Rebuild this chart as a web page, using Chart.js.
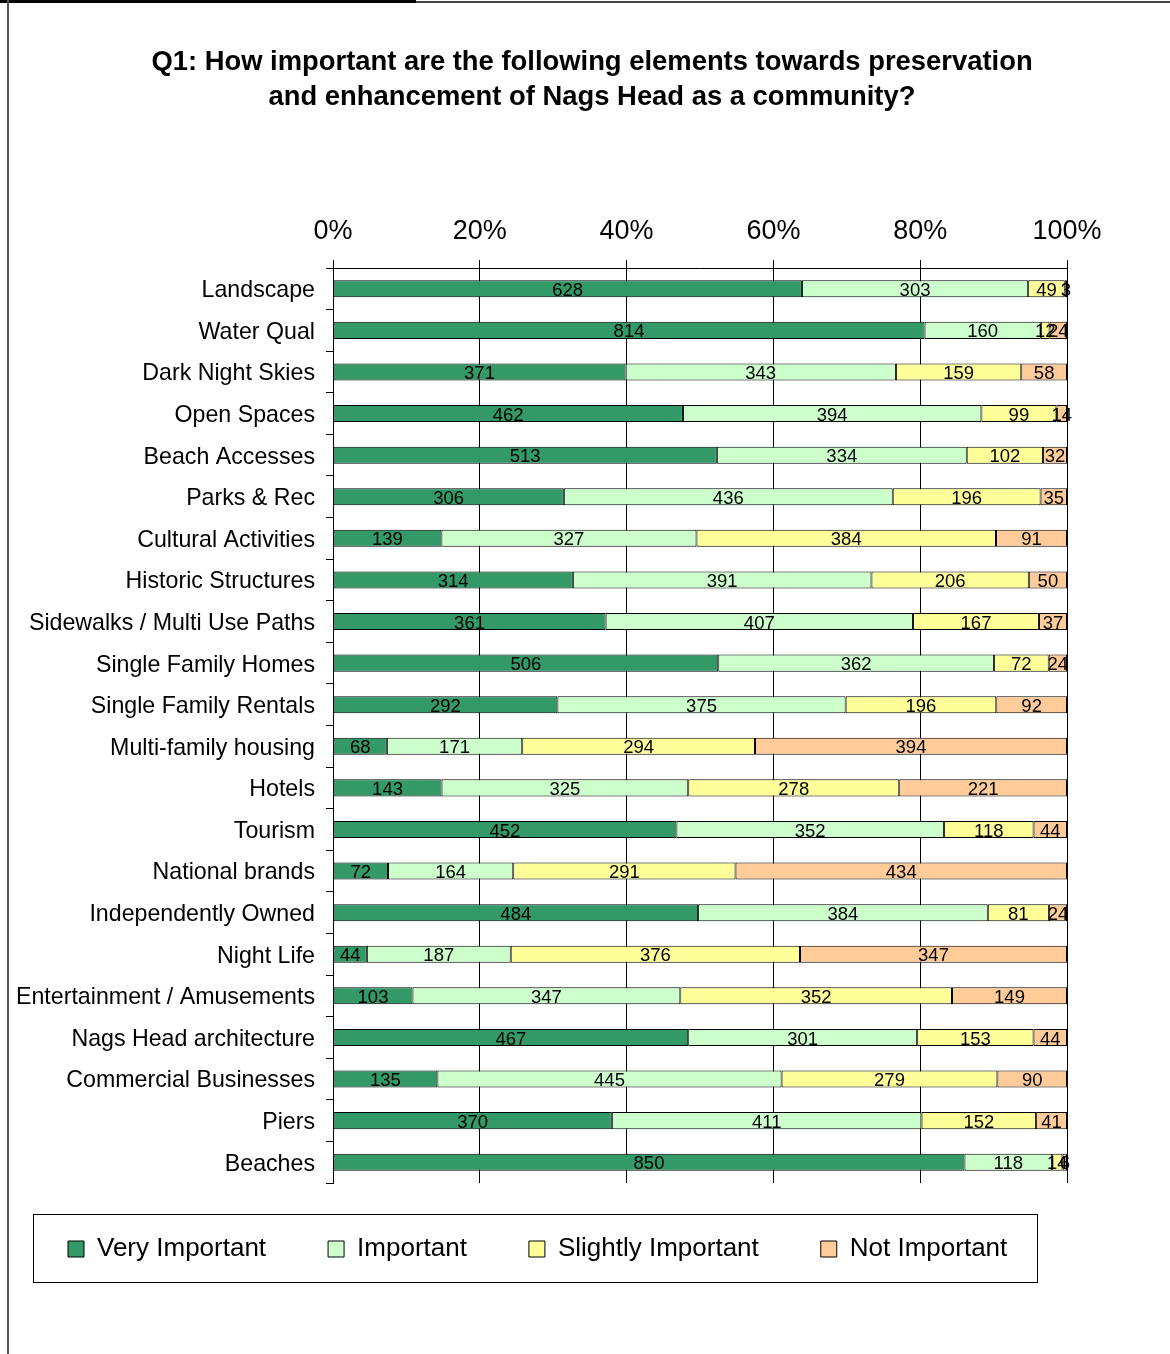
<!DOCTYPE html>
<html>
<head>
<meta charset="utf-8">
<script src="https://cdn.jsdelivr.net/npm/chart.js@4.4.1/dist/chart.umd.min.js"></script>
<style>
  html, body { margin: 0; padding: 0; background: #fff; }
  #wrap { position: relative; width: 1170px; height: 1354px; overflow: hidden; }
  #c { position: absolute; left: 0; top: 0; }
  .ln { position: absolute; pointer-events: none; }
</style>
</head>
<body>
<div id="wrap">
  <canvas id="c" width="1170" height="1354"></canvas>
  <div class="ln" style="left:0;top:0;width:416px;height:3px;background:#000;"></div>
  <div class="ln" style="left:416px;top:1px;width:754px;height:2px;background:#444;"></div>
  <div class="ln" style="left:7px;top:0;width:2px;height:1354px;background:#555;"></div>
</div>
<script>
const categories = [
  "Landscape", "Water Qual", "Dark Night Skies", "Open Spaces", "Beach Accesses",
  "Parks & Rec", "Cultural Activities", "Historic Structures", "Sidewalks / Multi Use Paths",
  "Single Family Homes", "Single Family Rentals", "Multi-family housing", "Hotels", "Tourism",
  "National brands", "Independently Owned", "Night Life", "Entertainment / Amusements",
  "Nags Head architecture", "Commercial Businesses", "Piers", "Beaches"
];
const seriesNames = ["Very Important", "Important", "Slightly Important", "Not Important"];
const veryImportant     = [628, 814, 371, 462, 513, 306, 139, 314, 361, 506, 292, 68, 143, 452, 72, 484, 44, 103, 467, 135, 370, 850];
const important         = [303, 160, 343, 394, 334, 436, 327, 391, 407, 362, 375, 171, 325, 352, 164, 384, 187, 347, 301, 445, 411, 118];
const slightlyImportant = [49, 12, 159, 99, 102, 196, 384, 206, 167, 72, 196, 294, 278, 118, 291, 81, 376, 352, 153, 279, 152, 14];
const notImportant      = [3, 24, 58, 14, 32, 35, 91, 50, 37, 24, 92, 394, 221, 44, 434, 24, 347, 149, 44, 90, 41, 6];
const tickValues = [0, 20, 40, 60, 80, 100];
const titleLines = [
  "Q1: How important are the following elements towards preservation",
  "and enhancement of Nags Head as a community?"
];
const colors = ["#339966", "#CCFFCC", "#FFFF99", "#FFCC99"];

const raw = [veryImportant, important, slightlyImportant, notImportant];
const totals = categories.map((_, i) => raw.reduce((s, a) => s + a[i], 0));
const FONT = "'Liberation Sans', Arial, sans-serif";

const datasets = raw.map((arr, k) => ({
  label: seriesNames[k],
  data: arr.map((v, i) => v / totals[i] * 100),
  rawValues: arr,
  backgroundColor: colors[k],
  borderColor: "#000",
  borderWidth: 1,
  borderSkipped: false,
  barPercentage: 0.41,
  categoryPercentage: 1.0,
  xAxisID: "x",
  yAxisID: "y"
}));

const valueLabels = {
  id: "valueLabels",
  afterDatasetsDraw(chart) {
    const ctx = chart.ctx;
    ctx.save();
    ctx.font = "18.5px " + FONT;
    ctx.fillStyle = "#000";
    ctx.textAlign = "center";
    ctx.textBaseline = "middle";
    chart.data.datasets.forEach((ds, di) => {
      const meta = chart.getDatasetMeta(di);
      meta.data.forEach((el, i) => {
        const cx = (el.x + el.base) / 2;
        ctx.fillText(String(ds.rawValues[i]), cx, el.y + 2);
      });
    });
    ctx.restore();
  }
};

const legendFrame = {
  id: "legendFrame",
  afterDraw(chart) {
    const lg = chart.legend;
    if (!lg || !lg.legendHitBoxes || !lg.legendHitBoxes.length) return;
    const hb = lg.legendHitBoxes;
    const first = hb[0], last = hb[hb.length - 1];
    const ctx = chart.ctx;
    ctx.save();
    ctx.strokeStyle = "#000";
    ctx.lineWidth = 1;
    const left = first.left - 35, right = last.left + last.width + 30;
    const top = first.top - 22, bottom = first.top + 46;
    ctx.strokeRect(Math.round(left) + 0.5, Math.round(top) + 0.5, Math.round(right - left), Math.round(bottom - top));
    ctx.restore();
  }
};

new Chart(document.getElementById("c"), {
  type: "bar",
  data: { labels: categories, datasets },
  options: {
    responsive: false,
    animation: false,
    indexAxis: "y",
    layout: { padding: { left: 6, right: -8, top: 0, bottom: 82 } },
    plugins: {
      title: {
        display: true,
        text: titleLines,
        color: "#000",
        font: { family: FONT, size: 27.4, weight: "bold", lineHeight: 35 / 27.4 },
        padding: { top: 45, bottom: 0 }
      },
      legend: {
        display: true,
        position: "bottom",
        align: "start",
        title: { display: true, text: "", font: { size: 1, lineHeight: 1 }, padding: { top: -5, bottom: -5 } },
        labels: {
          color: "#000",
          font: { family: FONT, size: 26 },
          boxWidth: 16,
          boxHeight: 16,
          padding: 62
        }
      },
      tooltip: { enabled: false }
    },
    scales: {
      x: {
        position: "top",
        stacked: true,
        min: 0,
        max: 100,
        afterBuildTicks(s) { s.ticks = tickValues.map(v => ({ value: v })); },
        afterFit(s) { s.height = 153; },
        ticks: {
          color: "#000",
          font: { family: FONT, size: 27 },
          padding: 12,
          callback: v => v + "%"
        },
        grid: { color: "#000", lineWidth: 1, drawTicks: true, tickLength: 8 },
        border: { display: true, color: "#000", width: 1 }
      },
      y: {
        position: "left",
        stacked: true,
        afterFit(s) { s.width = 327; },
        ticks: {
          color: "#000",
          font: { family: FONT, size: 23.2 },
          padding: 11,
          labelOffset: 2,
          autoSkip: false
        },
        grid: { display: true, drawOnChartArea: false, drawTicks: true, tickLength: 7, color: "#000", offset: true },
        border: { display: true, color: "#000", width: 1 }
      },
      yR: {
        type: "linear",
        axis: "y",
        position: "right",
        display: true,
        afterFit(s) { s.width = 111; },
        ticks: { display: false },
        grid: { display: false, drawTicks: false },
        border: { display: false }
      }
    }
  },
  plugins: [valueLabels, legendFrame]
});
</script>
</body>
</html>
